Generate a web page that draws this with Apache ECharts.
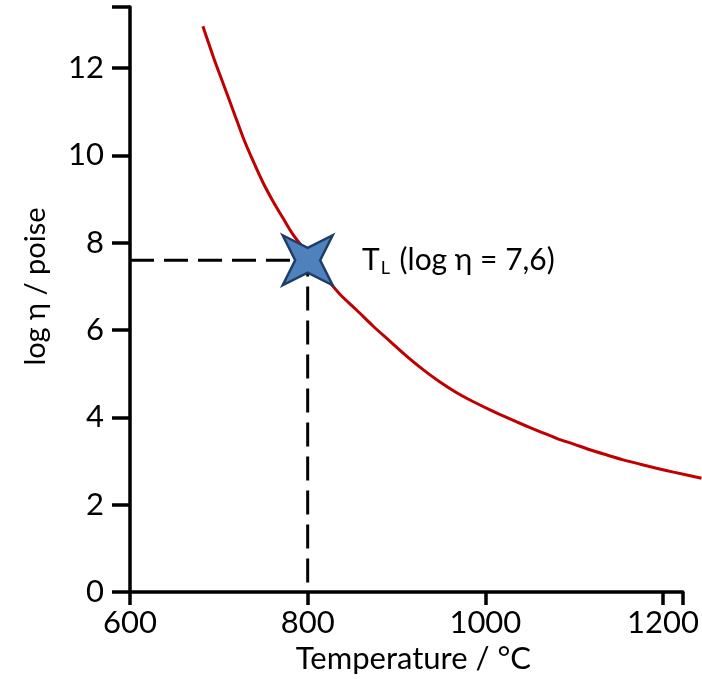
<!DOCTYPE html>
<html>
<head>
<meta charset="utf-8">
<script src="https://cdn.jsdelivr.net/npm/echarts@6/dist/echarts.min.js"></script>
<style>
  html, body { margin: 0; padding: 0; background: #fff; }
  #chart { width: 702px; height: 679px; }
</style>
</head>
<body>
<div id="chart"></div>
<script>
// Viscosity curve: temperature (°C) against log η (poise)
var temperature = [681, 693, 704, 715, 726, 737, 748, 759, 770, 781, 793, 815, 833, 852, 870, 889, 907, 926, 944, 963, 981, 1000, 1019, 1037, 1056, 1074, 1093, 1111, 1130, 1148, 1167, 1185, 1204, 1235];
var logViscosity = [12.96, 12.24, 11.63, 11.02, 10.41, 9.88, 9.39, 8.97, 8.59, 8.22, 7.90, 7.30, 6.86, 6.49, 6.13, 5.78, 5.45, 5.13, 4.86, 4.61, 4.41, 4.22, 4.04, 3.88, 3.72, 3.57, 3.44, 3.31, 3.19, 3.08, 2.98, 2.89, 2.80, 2.66];

// Liquidus point T_L
var liquidusT = 800;
var liquidusLogEta = 7.6;

// Guide lines from the y axis to the point and down to the x axis
var guideX = [600, liquidusT, liquidusT];
var guideY = [liquidusLogEta, liquidusLogEta, 0];

var xTicks = [600, 800, 1000, 1200];
var yTicks = [0, 2, 4, 6, 8, 10, 12];

var FONT = 'Lato, "Open Sans", sans-serif';
var INK = '#000';

var curveData = temperature.map(function (t, i) { return [t, logViscosity[i]]; });
var guideData = guideX.map(function (x, i) { return [x, guideY[i]]; });

// four-pointed star, points on the diagonals
var star = 'path://M0,0 L50,25 L100,0 L75,50 L100,100 L50,75 L0,100 L25,50 Z';

// Both grids share 0.9 px per °C; the second one runs to the right edge
// so the curve can continue past the end of the drawn axis.
var PX_PER_DEG = 0.9;
var plotLeft = 130, axisRight = 12;
var axisMax = 600 + (702 - plotLeft - axisRight) / PX_PER_DEG;
var fullMax = 600 + (702 - plotLeft) / PX_PER_DEG;

var chart = echarts.init(document.getElementById('chart'), null, { renderer: 'canvas' });
chart.setOption({
  animation: false,
  backgroundColor: '#ffffff',
  grid: [
    { left: plotLeft, right: axisRight, top: 7, bottom: 84 },
    { left: plotLeft, right: 0, top: 7, bottom: 84 }
  ],
  xAxis: [
    {
      type: 'value',
      gridIndex: 0,
      min: 600,
      max: axisMax,
      interval: 200,
      name: 'Temperature / °C',
      nameLocation: 'middle',
      nameGap: 47,
      nameTextStyle: { fontFamily: FONT, fontSize: 31, color: INK, padding: [0, 0, 0, 14] },
      axisLine: { onZero: false, lineStyle: { color: INK, width: 3.5 } },
      axisTick: { length: 13, lineStyle: { color: INK, width: 3.5 } },
      axisLabel: {
        margin: 15, fontFamily: FONT, fontSize: 31, color: INK,
        formatter: function (v) { return xTicks.indexOf(v) >= 0 ? String(v) : ''; }
      },
      splitLine: { show: false }
    },
    {
      type: 'value',
      gridIndex: 1,
      min: 600,
      max: fullMax,
      show: false,
      splitLine: { show: false }
    }
  ],
  yAxis: [
    {
      type: 'value',
      gridIndex: 0,
      min: 0,
      max: 13.4,
      interval: 2,
      name: 'log η / poise',
      nameLocation: 'middle',
      nameGap: 80,
      nameTextStyle: { fontFamily: FONT, fontSize: 29, color: INK, padding: [0, 0, 0, 26] },
      axisLine: { onZero: false, lineStyle: { color: INK, width: 3.5 } },
      axisTick: { length: 18, lineStyle: { color: INK, width: 3.5 } },
      axisLabel: {
        margin: 26, fontFamily: FONT, fontSize: 31, color: INK,
        formatter: function (v) { return yTicks.indexOf(v) >= 0 ? String(v) : ''; }
      },
      splitLine: { show: false }
    },
    {
      type: 'value',
      gridIndex: 1,
      min: 0,
      max: 13.4,
      show: false,
      splitLine: { show: false }
    }
  ],
  series: [
    {
      type: 'line',
      xAxisIndex: 0,
      yAxisIndex: 0,
      data: guideData,
      symbol: 'none',
      lineStyle: { color: INK, width: 3, type: [24, 10] },
      z: 2
    },
    {
      type: 'line',
      xAxisIndex: 1,
      yAxisIndex: 1,
      data: curveData,
      smooth: 0.3,
      symbol: 'none',
      lineStyle: { color: '#c00000', width: 3 },
      z: 3
    },
    {
      type: 'scatter',
      xAxisIndex: 0,
      yAxisIndex: 0,
      data: [[liquidusT, liquidusLogEta]],
      symbol: star,
      symbolSize: 50,
      itemStyle: { color: '#4f81bd', borderColor: '#1f3d66', borderWidth: 2.5, opacity: 1 },
      label: {
        show: true,
        position: 'right',
        distance: 28,
        formatter: '{a|T}{s|L}{a| (log η = 7,6)}',
        rich: {
          a: { fontFamily: FONT, fontSize: 30, color: INK, lineHeight: 36 },
          s: { fontFamily: FONT, fontSize: 18, color: INK, lineHeight: 36, padding: [16, 2, 0, 1] }
        }
      },
      emphasis: { disabled: true },
      z: 5
    }
  ]
});
</script>
</body>
</html>
